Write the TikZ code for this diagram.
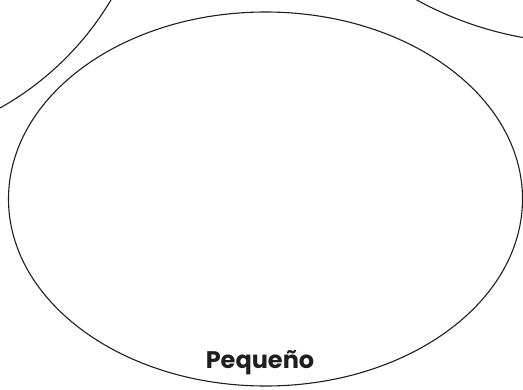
\documentclass[tikz,border=0pt]{standalone}
\usepackage{fontspec}
\setmainfont{Poppins}
\usetikzlibrary{shapes.geometric}
\definecolor{ink}{HTML}{1E1E1E}
\tikzset{
  set/.style={ellipse,draw=ink,line width=1.1pt,inner sep=0pt},
  rim/.style={draw=ink,line width=1.1pt},
  tag/.style={text=ink,font=\fontsize{24}{30}\selectfont\bfseries,inner sep=0pt}
}

\begin{document}
\begin{tikzpicture}[x=1pt,y=-1pt]
  % Fixed frame: the page is exactly the reference size.
  \useasboundingbox (0,0) rectangle (523,389);
  \clip (0,0) rectangle (523,389);

  % Main set and the two neighbouring sets cut off by the frame.
  \node[set,minimum width=514pt,minimum height=374pt] (small) at (265.5,199) {};
  \draw[rim] (-146,-153) circle (299);
  \draw[rim] (585,-307) circle (350);

  \node[tag,anchor=base] (smallLabel) at (260,368) {Pequeño};
\end{tikzpicture}
\end{document}
